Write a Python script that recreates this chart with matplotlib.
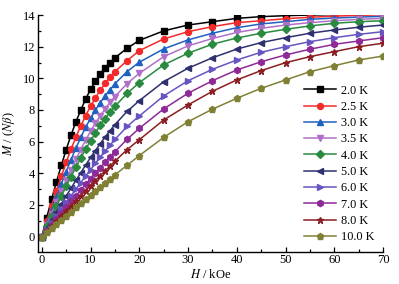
import matplotlib
matplotlib.use("Agg")
from matplotlib import pyplot as plt
from matplotlib.ticker import MultipleLocator

plt.rcParams["font.family"] = "Liberation Serif"
plt.rcParams["mathtext.fontset"] = "stix"

# field values (kOe)
field = [0, 1, 2, 3, 4, 5, 6, 7, 8, 9, 10, 11, 12, 13, 14, 15, 17.5,
         20, 25, 30, 35, 40, 45, 50, 55, 60, 65, 70]

m_2K0 = [0, 1.2, 2.35, 3.45, 4.5, 5.5, 6.42, 7.25, 8.0, 8.7, 9.3, 9.82, 10.27, 10.66,
         11.0, 11.3, 11.9, 12.4, 13.0, 13.37, 13.58, 13.79, 13.9, 13.96, 14.0, 14.03, 14.05, 14.06]
m_2K5 = [0, 0.99, 1.95, 2.89, 3.8, 4.69, 5.52, 6.29, 7.0, 7.65, 8.23, 8.77, 9.25, 9.68,
         10.07, 10.42, 11.12, 11.75, 12.49, 12.95, 13.27, 13.52, 13.64, 13.77, 13.86, 13.93, 13.98, 14.02]
m_3K0 = [0, 0.85, 1.68, 2.51, 3.31, 4.11, 4.87, 5.59, 6.27, 6.92, 7.47, 7.99, 8.47, 8.9,
         9.29, 9.66, 10.43, 11.02, 11.86, 12.43, 12.85, 13.2, 13.44, 13.58, 13.73, 13.81, 13.87, 13.92]
m_3K5 = [0, 0.73, 1.45, 2.16, 2.86, 3.56, 4.22, 4.88, 5.5, 6.1, 6.66, 7.17, 7.64, 8.07,
         8.48, 8.85, 9.67, 10.32, 11.37, 12.05, 12.52, 12.9, 13.16, 13.37, 13.52, 13.64, 13.73, 13.79]
m_4K0 = [0, 0.65, 1.29, 1.92, 2.55, 3.17, 3.79, 4.38, 4.97, 5.52, 6.06, 6.55, 7.04, 7.46,
         7.87, 8.23, 9.05, 9.73, 10.85, 11.59, 12.16, 12.55, 12.85, 13.1, 13.31, 13.48, 13.58, 13.64]
m_5K0 = [0, 0.52, 1.04, 1.55, 2.06, 2.57, 3.06, 3.56, 4.04, 4.52, 5.0, 5.44, 5.88, 6.3,
         6.69, 7.08, 7.91, 8.59, 9.79, 10.64, 11.3, 11.85, 12.26, 12.57, 12.85, 13.06, 13.23, 13.37]
m_6K0 = [0, 0.43, 0.87, 1.3, 1.72, 2.16, 2.58, 3.0, 3.41, 3.83, 4.23, 4.63, 5.03, 5.4,
         5.77, 6.14, 6.96, 7.62, 8.89, 9.85, 10.57, 11.16, 11.65, 12.0, 12.32, 12.57, 12.78, 12.95]
m_7K0 = [0, 0.37, 0.73, 1.12, 1.49, 1.86, 2.22, 2.58, 2.95, 3.3, 3.66, 4.01, 4.35, 4.7,
         5.04, 5.36, 6.15, 6.84, 8.07, 9.06, 9.85, 10.53, 11.05, 11.48, 11.84, 12.15, 12.36, 12.57]
m_8K0 = [0, 0.33, 0.65, 0.98, 1.31, 1.63, 1.95, 2.28, 2.59, 2.91, 3.22, 3.54, 3.86, 4.16,
         4.46, 4.76, 5.5, 6.12, 7.37, 8.32, 9.18, 9.9, 10.49, 10.99, 11.37, 11.69, 12.0, 12.22]
m_10K0 = [0, 0.26, 0.53, 0.79, 1.06, 1.32, 1.58, 1.84, 2.1, 2.36, 2.62, 2.88, 3.13, 3.39,
          3.64, 3.9, 4.51, 5.12, 6.27, 7.26, 8.05, 8.74, 9.37, 9.9, 10.42, 10.8, 11.16, 11.41]

labels = ["2.0 K", "2.5 K", "3.0 K", "3.5 K", "4.0 K", "5.0 K", "6.0 K", "7.0 K", "8.0 K", "10.0 K"]
series = [m_2K0, m_2K5, m_3K0, m_3K5, m_4K0, m_5K0, m_6K0, m_7K0, m_8K0, m_10K0]
colors = ["#000000", "#f22a2a", "#2060c0", "#b070c8", "#2a8a40",
          "#2e3070", "#6655c0", "#8e2a98", "#8b1e22", "#808035"]
markers = ["s", "o", "^", "v", "D", "<", ">", "h", "*", "p"]
sizes = [3.8, 4.3, 4.3, 4.3, 3.6, 4.3, 4.3, 4.5, 5.0, 4.5]

fig = plt.figure(figsize=(3.99, 2.84), dpi=100)
ax = fig.add_axes([0.095, 0.114, 0.865, 0.833])

for y, lab, c, mk, ms in zip(series, labels, colors, markers, sizes):
    ax.plot(field, y, color=c, marker=mk, markersize=ms, linewidth=1.1, label=lab)

ax.set_xlim(-0.8, 70)
ax.set_ylim(-0.95, 14)
ax.xaxis.set_major_locator(MultipleLocator(10))
ax.xaxis.set_minor_locator(MultipleLocator(5))
ax.yaxis.set_major_locator(MultipleLocator(2))
ax.yaxis.set_minor_locator(MultipleLocator(1))
ax.tick_params(which="both", direction="in", labelsize=9, width=0.9, pad=2)
ax.tick_params(which="major", length=3.5)
ax.tick_params(which="minor", length=2)

ax.spines["top"].set_visible(False)
ax.spines["right"].set_visible(False)
ax.spines["left"].set_linewidth(1.0)
ax.spines["bottom"].set_linewidth(1.0)

ax.set_xlabel(r"$H$ / kOe", fontsize=9, labelpad=1)
ax.set_ylabel(r"$M$ / ($N\beta$)", fontsize=9, labelpad=4)

ax.legend(loc="lower right", bbox_to_anchor=(1.0, 0.0), frameon=False, fontsize=8.8,
          handlelength=2.6, handletextpad=0.4, labelspacing=0.35, borderaxespad=0.3)

fig.savefig("out.png", dpi=100)
